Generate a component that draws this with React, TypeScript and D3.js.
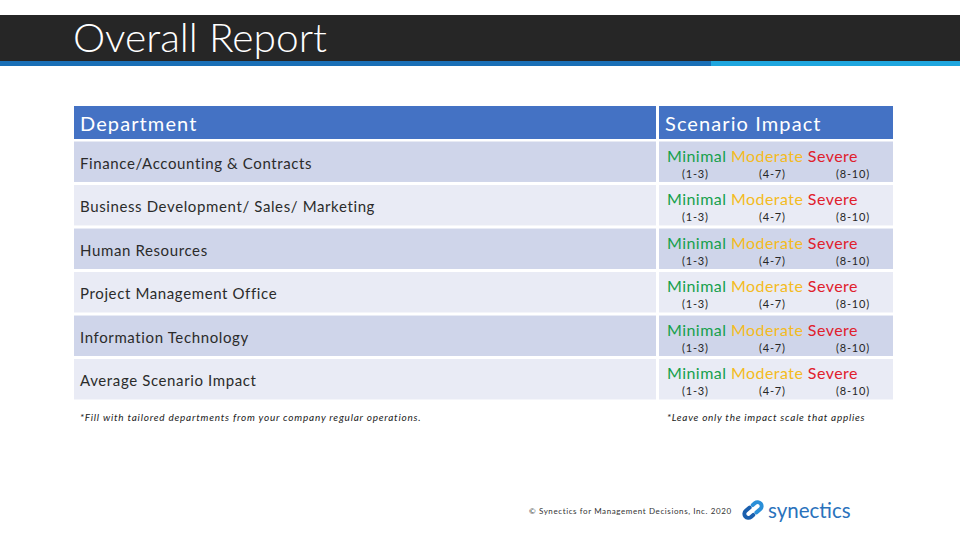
import React from "react";
import * as d3 from "d3";

const departments = [
  "Finance/Accounting & Contracts",
  "Business Development/ Sales/ Marketing",
  "Human Resources",
  "Project Management Office",
  "Information Technology",
  "Average Scenario Impact",
];
const impactLevels = ["Minimal", "Moderate", "Severe"];
const impactRanges = ["(1-3)", "(4-7)", "(8-10)"];
const impactColors = ["#16a04c", "#f4bb22", "#e0202c"];
const headers = ["Department", "Scenario Impact"];
const notes = [
  "*Fill with tailored departments from your company regular operations.",
  "*Leave only the impact scale that applies",
];

const W = 960;
const H = 540;
const FONT = "Lato, 'Open Sans', sans-serif";

export default function App() {
  const y = d3.scaleBand<string>().domain(departments).range([141.5, 399.5]).paddingInner(0.07);
  const col = d3.scaleOrdinal<string, [number, number]>().domain(headers).range([
    [74, 656],
    [659, 893],
  ]);
  const rangeX = d3.scalePoint<string>().domain(impactRanges).range([682, 836]);
  const rowFill = (i: number) => (i % 2 === 0 ? "#cfd5ea" : "#e9ebf5");

  return (
    <svg width={W} height={H} style={{ position: "absolute", left: 0, top: 0, background: "#fff" }}>
      {/* title bar */}
      <rect x={0} y={15} width={W} height={47} fill="#262626" />
      <rect x={0} y={61} width={711} height={5} fill="#1a6fb6" />
      <rect x={711} y={61} width={249} height={5} fill="#1fa6de" />
      <text x={73} y={52} fill="#fff" fontFamily={FONT} fontWeight={300} fontSize={40} textLength={254} lengthAdjust="spacingAndGlyphs">
        Overall Report
      </text>

      {/* header */}
      {headers.map((h) => {
        const [x0, x1] = col(h);
        return (
          <g key={h}>
            <rect x={x0} y={106} width={x1 - x0} height={33} fill="#4472c4" />
            <text x={x0 + 6} y={131} fill="#fff" fontFamily={FONT} fontSize={20} letterSpacing={1.1}>
              {h}
            </text>
          </g>
        );
      })}

      {/* rows */}
      {departments.map((d, i) => {
        const top = y(d)!;
        const bh = y.bandwidth();
        const [lx0, lx1] = col(headers[0]);
        const [rx0, rx1] = col(headers[1]);
        return (
          <g key={d}>
            <rect x={lx0} y={top} width={lx1 - lx0} height={bh} fill={rowFill(i)} />
            <rect x={rx0} y={top} width={rx1 - rx0} height={bh} fill={rowFill(i)} />
            <text x={lx0 + 6} y={top + 27} fill="#2b2b2b" fontFamily={FONT} fontSize={15} letterSpacing={0.62}>
              {d}
            </text>
            <text x={667} y={top + 20} fontFamily={FONT} fontSize={16} letterSpacing={0.45}>
              {impactLevels.map((lv, k) => (
                <tspan key={lv} fill={impactColors[k]}>
                  {(k > 0 ? " " : "") + lv}
                </tspan>
              ))}
            </text>
            {impactRanges.map((r) => (
              <text key={r} x={rangeX(r)} y={top + 36} fill="#262626" fontFamily={FONT} fontSize={11} letterSpacing={0.8}>
                {r}
              </text>
            ))}
          </g>
        );
      })}

      {/* notes */}
      <text x={80} y={421} fill="#222" fontFamily={FONT} fontStyle="italic" fontSize={10} letterSpacing={0.78}>
        {notes[0]}
      </text>
      <text x={667} y={421} fill="#222" fontFamily={FONT} fontStyle="italic" fontSize={10} letterSpacing={0.73}>
        {notes[1]}
      </text>

      {/* footer */}
      <text x={529} y={514} fill="#333" fontFamily={FONT} fontSize={8} letterSpacing={0.6}>
        © Synectics for Management Decisions, Inc. 2020
      </text>
      <g transform="translate(753,510) rotate(-40)" fill="none" strokeWidth={4} strokeLinecap="round">
        <path d="M-1 -4 L-6 -4 A4 4 0 0 0 -6 4 L-3 4" stroke="#1a5fae" />
        <path d="M1 4 L6 4 A4 4 0 0 0 6 -4 L3 -4" stroke="#2a8fd8" />
      </g>
      <text x={768} y={518} fill="#2a72bc" fontFamily={FONT} fontSize={20.5}>
        synectics
      </text>
    </svg>
  );
}
